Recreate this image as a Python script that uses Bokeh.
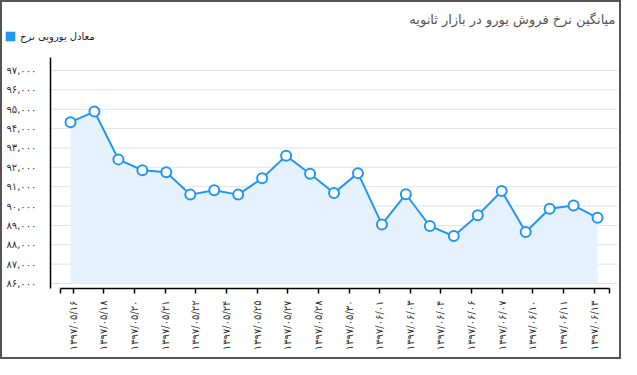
import math
from bokeh.plotting import figure
from bokeh.models import (Range1d, LinearAxis, FixedTicker, Label, Legend, LegendItem,
                          ColumnDataSource)
from bokeh.embed import file_html
from bokeh.resources import INLINE

# ---------------- data ----------------
title_text = "میانگین نرخ فروش یورو در بازار ثانویه"
series_name = "معادل یورویی نرخ"

rate_values = [94330, 94880, 92410, 91850, 91750, 90590, 90810, 90590, 91430, 92600,
               91670, 90670, 91700, 89050, 90610, 88970, 88450, 89520, 90780, 88660,
               89860, 90030, 89390]

date_labels = ["۱۳۹۷/۰۵/۱۶", "۱۳۹۷/۰۵/۱۸", "۱۳۹۷/۰۵/۲۰", "۱۳۹۷/۰۵/۲۱", "۱۳۹۷/۰۵/۲۲",
               "۱۳۹۷/۰۵/۲۴", "۱۳۹۷/۰۵/۲۵", "۱۳۹۷/۰۵/۲۷", "۱۳۹۷/۰۵/۲۸", "۱۳۹۷/۰۵/۳۰",
               "۱۳۹۷/۰۶/۰۱", "۱۳۹۷/۰۶/۰۳", "۱۳۹۷/۰۶/۰۴", "۱۳۹۷/۰۶/۰۶", "۱۳۹۷/۰۶/۰۷",
               "۱۳۹۷/۰۶/۱۰", "۱۳۹۷/۰۶/۱۱", "۱۳۹۷/۰۶/۱۳"]

y_ticks = [86000, 87000, 88000, 89000, 90000, 91000, 92000, 93000, 94000, 95000, 96000, 97000]
y_tick_labels = ["۸۶,۰۰۰", "۸۷,۰۰۰", "۸۸,۰۰۰", "۸۹,۰۰۰", "۹۰,۰۰۰", "۹۱,۰۰۰",
                 "۹۲,۰۰۰", "۹۳,۰۰۰", "۹۴,۰۰۰", "۹۵,۰۰۰", "۹۶,۰۰۰", "۹۷,۰۰۰"]

# ---------------- layout / style ----------------
BLUE = "#2196f3"
FILL = "#e5f2fd"
GRID = "#e2e2e2"
FONT = "DejaVu Sans"

W, H = 621, 359
X_RANGE = (-2.922, 23.001)        # point index units across the whole canvas
LAB_RANGE = (-2.371, 17.890)      # date-label units across the whole canvas
Y_RANGE = (82075, 100615)
Y_AXIS_AT = -0.835                # x position of the value axis
GRID_END = 22.835
Y_BOUNDS = (85742, 97671)
X_BOUNDS = (-0.41, 17.495)

p = figure(width=W, height=H, output_backend="svg", toolbar_location=None,
           x_range=Range1d(*X_RANGE), y_range=Range1d(*Y_RANGE),
           min_border_left=0, min_border_right=0, min_border_top=0, min_border_bottom=0,
           x_axis_location=None, y_axis_location=None)
p.background_fill_color = "white"
p.border_fill_color = "white"
p.outline_line_color = "#555555"
p.outline_line_width = 3
p.xgrid.visible = False
p.ygrid.visible = False

idx = list(range(len(rate_values)))
src = ColumnDataSource(dict(x=idx, y=rate_values, base=[y_ticks[0]] * len(idx)))

# horizontal grid lines at the value ticks, starting at the value axis
p.segment(x0=[Y_AXIS_AT] * len(y_ticks), x1=[GRID_END] * len(y_ticks), y0=y_ticks, y1=y_ticks,
          line_color=GRID, line_width=1, level="underlay")

p.varea(x="x", y1="base", y2="y", source=src, fill_color=FILL, fill_alpha=1.0)
p.line(x="x", y="y", source=src, line_color=BLUE, line_width=2)
p.scatter(x="x", y="y", source=src, size=10, fill_color="white", line_color=BLUE, line_width=2)

# swatch renderer for the legend (not drawn in the plot: NaN extent)
nan = float("nan")
leg_r = p.quad(left=[nan], right=[nan], top=[nan], bottom=[nan], fill_color=BLUE,
               line_color=None)

# ---------------- axes ----------------
yaxis = LinearAxis(ticker=FixedTicker(ticks=y_ticks), fixed_location=Y_AXIS_AT,
                   bounds=Y_BOUNDS)
yaxis.major_label_overrides = {t: s for t, s in zip(y_ticks, y_tick_labels)}
yaxis.major_tick_line_color = None
yaxis.minor_tick_line_color = None
yaxis.major_label_standoff = 8
yaxis.axis_line_color = "#000000"
yaxis.axis_line_width = 1.5
yaxis.major_label_text_font = FONT
yaxis.major_label_text_font_size = "10px"
yaxis.major_label_text_color = "#333333"
p.add_layout(yaxis, "left")

p.extra_x_ranges = {"lab": Range1d(*LAB_RANGE)}
lab_pos = list(range(len(date_labels)))
xaxis = LinearAxis(x_range_name="lab", fixed_location=Y_BOUNDS[0],
                   ticker=FixedTicker(ticks=[X_BOUNDS[0]] + lab_pos + [X_BOUNDS[1]]))
ov = {i: s for i, s in zip(lab_pos, date_labels)}
ov[X_BOUNDS[0]] = ""
ov[X_BOUNDS[1]] = ""
xaxis.major_label_overrides = ov
xaxis.bounds = X_BOUNDS
xaxis.major_label_orientation = math.pi / 2
xaxis.major_tick_in = 0
xaxis.major_tick_out = 5
xaxis.major_tick_line_width = 1.5
xaxis.minor_tick_line_color = None
xaxis.axis_line_width = 1.5
xaxis.axis_line_color = "#000000"
xaxis.major_label_standoff = 7
xaxis.major_label_text_font = FONT
xaxis.major_label_text_font_size = "10px"
xaxis.major_label_text_color = "#333333"
p.add_layout(xaxis, "below")

# ---------------- title & legend ----------------
p.add_layout(Label(x=W - 6, y=H - 19, x_units="screen", y_units="screen",
                   text=title_text, text_align="right", text_baseline="alphabetic",
                   text_font=FONT, text_font_size="13px", text_color="#555555"))

legend = Legend(items=[LegendItem(label=series_name, renderers=[leg_r])],
                location=(4, H - 42), orientation="horizontal",
                background_fill_alpha=0, border_line_color=None, padding=0, margin=0,
                spacing=0, glyph_width=12, glyph_height=12, label_standoff=4, label_height=12,
                label_text_font=FONT, label_text_font_size="10px", label_text_color="#222222")
p.add_layout(legend, "center")

open("out.html", "w").write(file_html(p, INLINE))
